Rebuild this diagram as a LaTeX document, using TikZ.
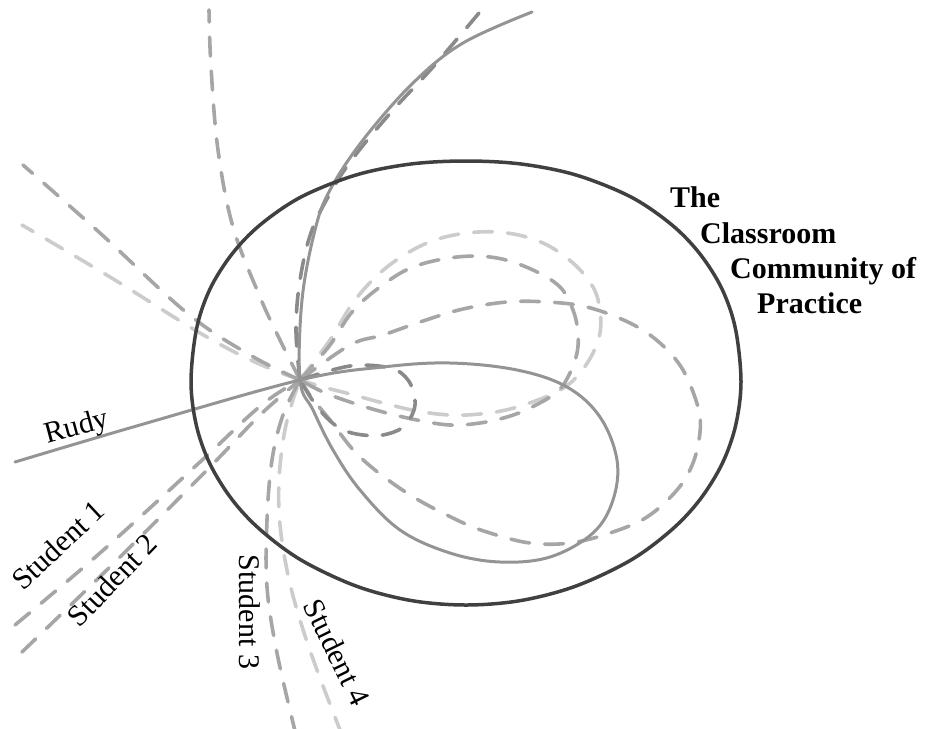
\documentclass[tikz,border=0pt]{standalone}
\usepackage{fontspec}
\setmainfont{Liberation Serif}
\begin{document}
\begin{tikzpicture}[x=1pt,y=-1pt,
  ring/.style={draw=black!75, line width=3.5pt},
  traj/.style={draw=black!42, line width=3pt, line cap=round},
  dmed/.style={draw=black!35, line width=3.6pt, line cap=round, dash pattern=on 19pt off 15pt},
  ddark/.style={draw=black!46, line width=3.6pt, line cap=round, dash pattern=on 19pt off 15pt},
  dlight/.style={draw=black!20, line width=3.6pt, line cap=round, dash pattern=on 19pt off 15pt},
  lab/.style={font=\fontsize{30}{36}\selectfont, inner sep=0pt},
  ttl/.style={font=\fontsize{30}{36}\selectfont\bfseries, anchor=base west, inner sep=0pt}]
\useasboundingbox (0,0) rectangle (933,728);
\clip (0,0) rectangle (933,728);
\coordinate (P) at (300,380);

% light dashed (Student 4)
\draw[dlight] plot[smooth,tension=0.6] coordinates {(342,735) (317,670) (300,620) (288,575) (280,525) (279,480) (284,435) (292,403) (P)};
\draw[dlight] plot[smooth,tension=0.6] coordinates {(P) (330,340) (355,300) (387,267) (427,243) (467,233) (507,233) (543,243) (573,263) (593,287) (600,310) (600,333) (593,353) (580,373) (565,387) (543,398) (510,409) (480,414) (450,415) (417,411) (383,403) (350,394) (323,387) (P)};
\draw[dlight] plot[smooth,tension=0.6] coordinates {(P) (255,362) (200,333) (110,277) (22,225)};

% medium dashed
\draw[dmed] plot[smooth,tension=0.6] coordinates {(296,735) (277,653) (267,587) (267,520) (272,460) (283,415) (P)};
\draw[dmed] plot[smooth,tension=0.6] coordinates {(15,625) (100,553) (200,462) (250,415) (275,395) (P)};
\draw[dmed] plot[smooth,tension=0.6] coordinates {(22,652) (117,560) (207,470) (255,420) (280,397) (P)};
\draw[dmed] plot[smooth,tension=0.6] coordinates {(P) (330,345) (352,312) (380,287) (413,267) (457,257) (497,258) (533,270) (560,287) (573,310) (578,333) (577,353) (570,373) (557,392) (530,408) (507,417) (480,423) (450,425) (417,420) (383,412) (350,402) (323,392) (P)};
\draw[dmed] plot[smooth,tension=0.6] coordinates {(P) (350,345) (383,335) (423,321) (463,309) (507,302) (547,302) (587,307) (630,323) (660,343) (683,370) (698,407) (700,432) (693,463) (677,490) (647,517) (610,533) (570,543) (530,543) (490,533) (457,520) (407,493) (360,457) (330,420) (312,398) (P)};
\draw[dmed] plot[smooth,tension=0.6] coordinates {(P) (280,340) (260,297) (233,227) (218,150) (211,67) (209,10)};
\draw[dmed] plot[smooth,tension=0.6] coordinates {(P) (250,355) (187,313) (100,233) (23,165)};

% dark dashed
\draw[ddark] plot[smooth,tension=0.6] coordinates {(P) (350,366) (390,368) (408,380) (415,400) (412,415) (402,428) (383,435) (363,435) (343,430) (327,418) (313,401) (P)};
\draw[ddark] plot[smooth,tension=0.6] coordinates {(P) (296,330) (300,280) (312,230) (335,185) (357,153) (393,110) (433,67) (479,13)};

% Rudy (solid)
\draw[traj] plot[smooth,tension=0.6] coordinates {(15,462) (140,425) (P) (383,367) (450,363) (517,370) (567,387) (600,417) (617,460) (613,500) (593,533) (550,557) (500,562) (450,553) (400,530) (360,490) (333,450) (313,410) (P) (302,300) (315,230) (330,190) (363,140) (413,83) (463,43) (532,12)};

% community of practice
\draw[ring] plot[smooth cycle,tension=0.55] coordinates {(466,161) (521,164) (576,175) (631,197) (672,225) (700,254) (722,289) (735.5,329) (741,382) (735.5,426) (722,464) (700,499.5) (672,529.5) (631,560) (576,586) (521,600.5) (466,605) (411,600.5) (356,586) (301,560) (260,529.5) (232,499.5) (210,464) (196.5,426) (191,382) (196.5,329) (210,289) (232,254) (260,225) (301,197) (356,175) (411,164)};

% labels
\node[lab, rotate=15] (rudy) at (77,428) {Rudy};
\node[lab, rotate=43] (s1) at (58,545) {Student 1};
\node[lab, rotate=46] (s2) at (112,580) {Student 2};
\node[lab, rotate=-90] (s3) at (250,612) {Student 3};
\node[lab, rotate=-64] (s4) at (337,652) {Student 4};

\node[ttl] (t1) at (670,207) {The};
\node[ttl] (t2) at (700,243) {Classroom};
\node[ttl] (t3) at (730,278) {Community of};
\node[ttl] (t4) at (757,313) {Practice};
\end{tikzpicture}
\end{document}
